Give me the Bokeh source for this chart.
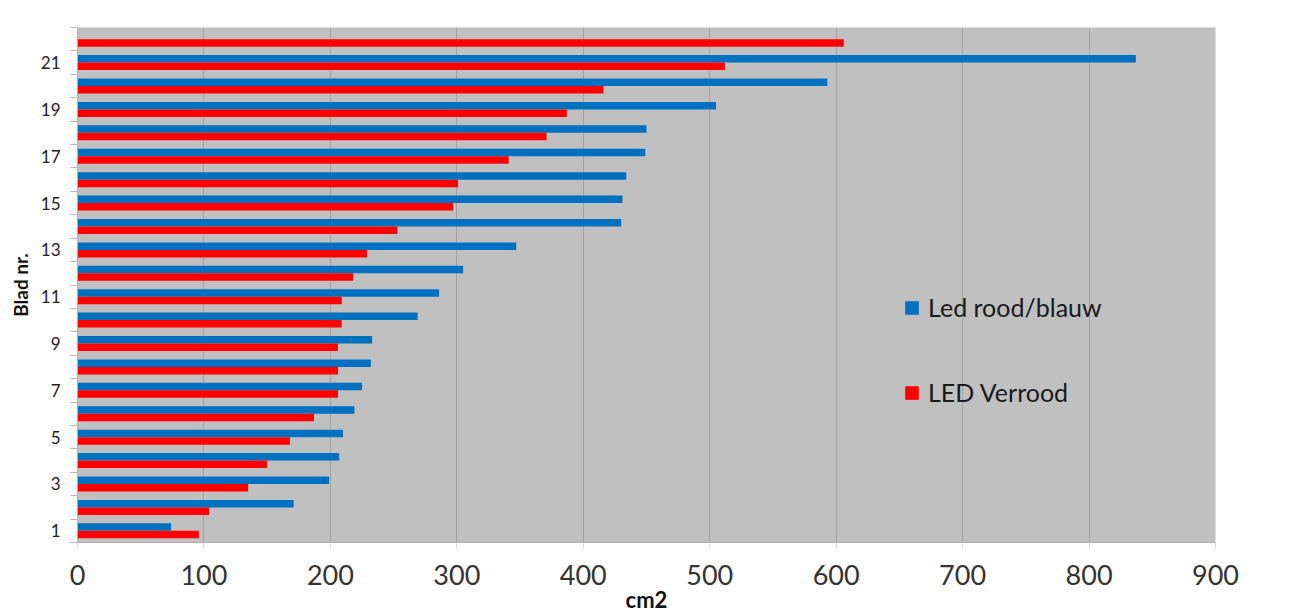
from bokeh.plotting import figure
from bokeh.models import FixedTicker, Legend, LegendItem, ColumnDataSource
from bokeh.embed import file_html
from bokeh.resources import INLINE

# Leaf area per leaf number (cm2) for the two LED treatments
blad = list(range(1, 23))
led_rood_blauw = [74, 171, 199, 207, 210, 219, 225, 232, 233, 269, 286, 305,
                  347, 430, 431, 434, 449, 450, 505, 593, 837, 0]
led_verrood = [96, 104, 135, 150, 168, 187, 206, 206, 206, 209, 209, 218,
               229, 253, 297, 301, 341, 371, 387, 416, 512, 606]
x_ticks = [0, 100, 200, 300, 400, 500, 600, 700, 800, 900]
y_tick_labels = [1, 3, 5, 7, 9, 11, 13, 15, 17, 19, 21]

BLUE = "#0070c0"
RED = "#ff0000"
FONT = "Lato"
bar_h = 0.32

src = ColumnDataSource(dict(
    y_blue=[b + bar_h / 2 for b in blad],
    y_red=[b - bar_h / 2 for b in blad],
    blue=led_rood_blauw,
    red=led_verrood,
))

p = figure(width=1295, height=615, x_range=(0, 900), y_range=(0.5, 22.5),
           output_backend="svg", toolbar_location=None,
           min_border_left=77, min_border_right=80, min_border_top=27,
           min_border_bottom=73)
p.background_fill_color = "#c0c0c0"
p.border_fill_color = "white"
p.outline_line_color = None

rb = p.hbar(y="y_blue", right="blue", left=0, height=bar_h, source=src,
            fill_color=BLUE, line_color=None)
rr = p.hbar(y="y_red", right="red", left=0, height=bar_h, source=src,
            fill_color=RED, line_color=None)

# x axis
p.xaxis.ticker = FixedTicker(ticks=x_ticks)
p.xaxis.major_label_text_font = FONT
p.xaxis.major_label_text_font_size = "27px"
p.xaxis.major_label_text_color = "#333333"
p.xaxis.major_label_standoff = 16
p.xaxis.major_tick_out = 6
p.xaxis.major_tick_in = 0
p.xaxis.major_tick_line_color = "#d8d8d8"
p.xaxis.minor_tick_line_color = None
p.xaxis.axis_line_color = "#b0b0b0"
p.xaxis.axis_label = "cm2"
p.xaxis.axis_label_text_font = FONT
p.xaxis.axis_label_text_font_size = "22px"
p.xaxis.axis_label_text_font_style = "bold"
p.xaxis.axis_label_text_color = "#111111"
p.xaxis.axis_label_standoff = -2

# y axis: labels on odd leaves, ticks between categories
p.yaxis.ticker = FixedTicker(ticks=y_tick_labels,
                             minor_ticks=[b - 0.5 for b in blad] + [22.5])
p.yaxis.major_tick_line_color = None
p.yaxis.minor_tick_out = 7
p.yaxis.minor_tick_in = 0
p.yaxis.minor_tick_line_color = "#b8b8b8"
p.yaxis.axis_line_color = "#b0b0b0"
p.yaxis.major_label_text_font = FONT
p.yaxis.major_label_text_font_size = "17px"
p.yaxis.major_label_text_color = "#222222"
p.yaxis.major_label_standoff = 10
p.yaxis.axis_label = "Blad nr."
p.yaxis.axis_label_text_font = FONT
p.yaxis.axis_label_text_font_size = "19px"
p.yaxis.axis_label_text_font_style = "bold"
p.yaxis.axis_label_text_color = "#111111"
p.yaxis.axis_label_standoff = 6

p.xgrid.grid_line_color = "#9a9a9a"
p.xgrid.grid_line_alpha = 0.8
p.ygrid.grid_line_color = None

legend = Legend(items=[LegendItem(label="Led rood/blauw", renderers=[rb]),
                       LegendItem(label="LED Verrood", renderers=[rr])],
                location=(826, 135), orientation="vertical")
legend.background_fill_alpha = 0
legend.border_line_color = None
legend.padding = 0
legend.margin = 0
legend.spacing = 55
legend.glyph_width = 17
legend.glyph_height = 17
legend.label_standoff = 8
legend.label_text_font = FONT
legend.label_text_font_size = "25px"
legend.label_text_color = "#1a1a1a"
p.add_layout(legend)

open("out.html", "w").write(file_html(p, INLINE))
